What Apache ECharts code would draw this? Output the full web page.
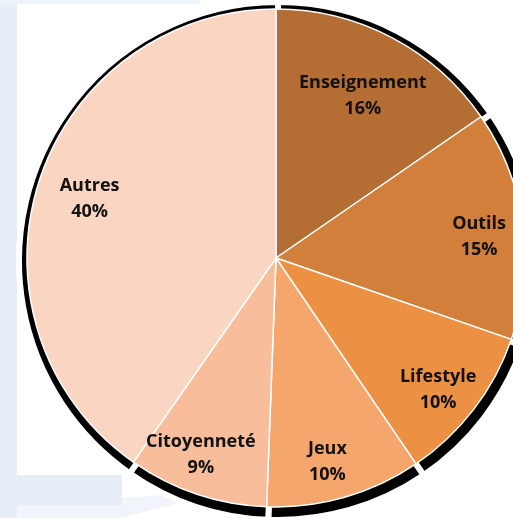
<!DOCTYPE html>
<html>
<head>
<meta charset="utf-8">
<script src="https://cdn.jsdelivr.net/npm/echarts@6/dist/echarts.min.js"></script>
<style>
  html, body { margin: 0; padding: 0; background: #fff; }
  #pie_chart { width: 513px; height: 518px; }
</style>
</head>
<body>
<div id="pie_chart"></div>
<script>
var categories = ["Enseignement", "Outils", "Lifestyle", "Jeux", "Citoyenneté", "Autres"];
var values = [15.4, 14.9, 10.2, 10.1, 9.1, 40.3];
var colors = ["#b46e34", "#d27f3b", "#ec9144", "#f5a66d", "#f8bd9b", "#f9d5c2"];

var chartDom = document.getElementById("pie_chart");
var myChart = echarts.init(chartDom);
var option;

var pieData = categories.map(function (name, i) {
  return { name: name, value: values[i] };
});

// small manual nudges so labels sit where the original "best fit" put them
function nudgeLabel(params) {
  switch (params.dataIndex) {
    case 0: return { dx: -10, dy: 22 };
    case 1: return { dx: -3, dy: 7 };
    case 2: return { dx: -3, dy: 5 };
    case 3: return { dx: -6, dy: 4 };
    case 4: return { dx: -9, dy: 0 };
    case 5: return { dx: 12, dy: 3 };
  }
}

option = {
  backgroundColor: "#fff",
  animation: false,
  graphic: [
    // faded background picture on the left
    { type: "rect", shape: { x: 0, y: 0, width: 17, height: 518 }, style: { fill: "#e8eef8" }, z: -10 },
    { type: "rect", shape: { x: 0, y: 475, width: 122, height: 30 }, style: { fill: "#e8eef8" }, z: -10 },
    { type: "polygon", shape: { points: [[0, 505], [122, 505], [122, 498], [230, 490], [120, 518], [0, 518]] }, style: { fill: "#f1f4fa" }, z: -11 },
    { type: "rect", shape: { x: 0, y: 0, width: 200, height: 4 }, style: { fill: "#eef2f9" }, z: -10 }
  ],
  series: [
    {
      // black shadow behind the pie
      name: "ombre",
      type: "pie",
      silent: true,
      center: [278, 261],
      radius: 259,
      startAngle: 90,
      clockwise: true,
      label: { show: false },
      labelLine: { show: false },
      itemStyle: { color: "#000", borderColor: "#fff", borderWidth: 6 },
      data: pieData
    },
    {
      name: "Répartition",
      type: "pie",
      silent: true,
      center: [276, 258],
      radius: 249,
      startAngle: 90,
      clockwise: true,
      label: { show: false },
      labelLine: { show: false },
      itemStyle: { borderColor: "#fff", borderWidth: 1.5 },
      data: pieData.map(function (d, i) {
        return { name: d.name, value: d.value, itemStyle: { color: colors[i] } };
      })
    },
    {
      // transparent ring only used to place labels further out
      name: "labels",
      type: "pie",
      silent: true,
      center: [276, 258],
      radius: 410,
      startAngle: 90,
      clockwise: true,
      percentPrecision: 0,
      itemStyle: { color: "rgba(0,0,0,0)" },
      label: {
        show: true,
        position: "inside",
        formatter: "{b}\n{d}%",
        fontFamily: "Open Sans",
        fontWeight: "bold",
        fontSize: 18,
        lineHeight: 26,
        color: "#111"
      },
      labelLine: { show: false },
      labelLayout: nudgeLabel,
      data: pieData
    }
  ]
};

option && myChart.setOption(option);
</script>
</body>
</html>
